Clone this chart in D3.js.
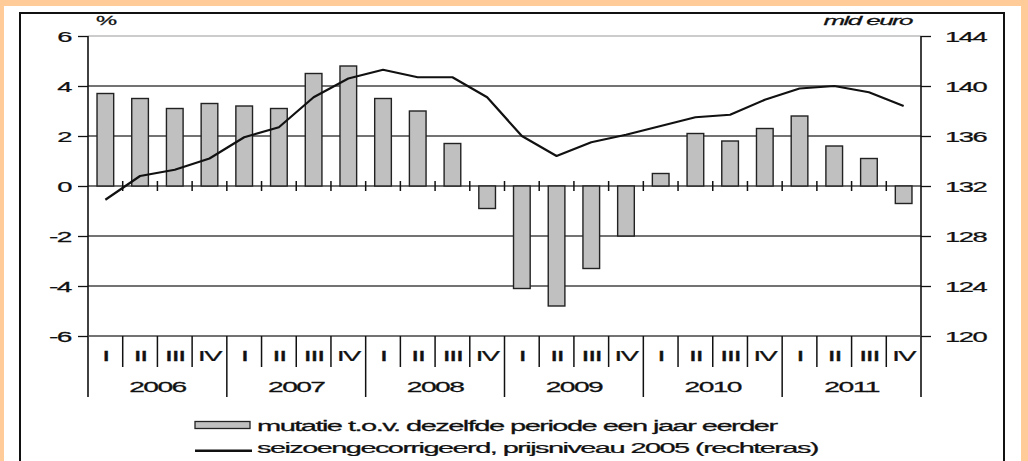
<!DOCTYPE html>
<html><head><meta charset="utf-8">
<script src="https://cdn.jsdelivr.net/npm/d3@7"></script>
<style>
html,body{margin:0;padding:0;background:#fff;}
svg{display:block;font-family:"Liberation Sans",Arial,sans-serif;}
</style></head>
<body>
<svg id="c" width="1028" height="461"></svg>
<script>
const quarters = ["I","II","III","IV"];
const years = ["2006","2007","2008","2009","2010","2011"];
const mutatie = [3.7,3.5,3.1,3.3, 3.2,3.1,4.5,4.8, 3.5,3.0,1.7,-0.9, -4.1,-4.8,-3.3,-2.0, 0.5,2.1,1.8,2.3, 2.8,1.6,1.1,-0.7];
const niveau = [130.9,132.8,133.3,134.2, 135.9,136.7,139.1,140.6, 141.3,140.7,140.7,139.1, 136.0,134.4,135.5,136.1, 136.8,137.5,137.7,138.9, 139.8,140.0,139.5,138.4];
const leftTicks = [-6,-4,-2,0,2,4,6];
const rightTicks = [120,124,128,132,136,140,144];
const leftUnit = "%";
const rightUnit = "mld euro";
const legendLabels = ["mutatie t.o.v. dezelfde periode een jaar eerder","seizoengecorrigeerd, prijsniveau 2005 (rechteras)"];

const cats = [];
years.forEach(y => quarters.forEach(q => cats.push(y + "-" + q)));

const svg = d3.select("#c");
const L = 88, R = 921, T = 36, B = 336;

// horizontal glyph stretch with tight spacing (the reference is widened)
function stretch(sel, k, ls){
  ls = (ls === undefined) ? -0.8 : ls;
  sel.each(function(){
    const s = d3.select(this);
    const w0 = this.getComputedTextLength();
    s.attr("letter-spacing", ls);
    const w1 = this.getComputedTextLength();
    const kk = w1 > 0 ? k*w0/w1 : k;
    const tx = +s.attr("x") || 0, ty = +s.attr("y") || 0;
    s.attr("x",0).attr("y",0).attr("transform",`translate(${tx},${ty}) scale(${kk},1)`)
     .attr("stroke","#111").attr("stroke-width",0.25);
  });
}

// background / borders
svg.append("rect").attr("x",0).attr("y",0).attr("width",1028).attr("height",461).attr("fill","#ffcc99");
svg.append("rect").attr("x",4).attr("y",6).attr("width",1017).attr("height",470).attr("fill","#fff");
svg.append("rect").attr("x",20).attr("y",13).attr("width",984).attr("height",470)
  .attr("fill","none").attr("stroke","#111").attr("stroke-width",2);

const x = d3.scaleBand().domain(cats).range([L,R]).padding(0);
const yL = d3.scaleLinear().domain([-6,6]).range([B,T]);
const yR = d3.scaleLinear().domain([120,144]).range([B,T]);

// gridlines
svg.append("g").selectAll("line").data(leftTicks.filter(v=>v>-6)).join("line")
  .attr("x1",L).attr("x2",R).attr("y1",d=>yL(d)).attr("y2",d=>yL(d))
  .attr("stroke",d=>d===6?"#999":"#444").attr("stroke-width",d=>d===6?1:1.3);

// bars
const bw = x.bandwidth()*0.48;
svg.append("g").selectAll("rect").data(mutatie).join("rect")
  .attr("x",(d,i)=>x(cats[i])+x.bandwidth()/2-bw/2)
  .attr("width",bw)
  .attr("y",d=>yL(Math.max(0,d)))
  .attr("height",d=>Math.abs(yL(d)-yL(0)))
  .attr("fill","#c0c0c0").attr("stroke","#222").attr("stroke-width",1.4);

// zero-line ticks at quarter boundaries
svg.append("g").selectAll("line").data(cats.slice(1)).join("line")
  .attr("x1",d=>x(d)).attr("x2",d=>x(d)).attr("y1",yL(0)-5).attr("y2",yL(0)+5)
  .attr("stroke","#111").attr("stroke-width",1.5);

// line
const line = d3.line().x((d,i)=>x(cats[i])+x.bandwidth()/2).y(d=>yR(d));
svg.append("path").datum(niveau).attr("d",line).attr("fill","none")
  .attr("stroke","#111").attr("stroke-width",2.2).attr("stroke-linejoin","round");

// axes
const axL = d3.axisLeft(yL).tickValues(leftTicks).tickSize(10).tickPadding(0).tickFormat(d=>String(d));
const gL = svg.append("g").attr("transform",`translate(${L},0)`).call(axL);
const axR = d3.axisRight(yR).tickValues(rightTicks).tickSize(10).tickPadding(0).tickFormat(d=>String(d));
const gR = svg.append("g").attr("transform",`translate(${R},0)`).call(axR);
[gL,gR].forEach(g=>{
  g.select(".domain").remove();
  g.selectAll(".tick line").attr("stroke","#111").attr("stroke-width",1.3);
  g.selectAll(".tick text").attr("font-size",15).attr("fill","#111").attr("font-family","Liberation Sans, Arial");
});
gL.selectAll(".tick text").attr("x",-17).attr("dy","0.36em");
gR.selectAll(".tick text").attr("x",24).attr("dy","0.36em");
stretch(gL.selectAll(".tick text"),1.65);
stretch(gR.selectAll(".tick text"),1.65);
svg.append("line").attr("x1",L).attr("x2",L).attr("y1",T).attr("y2",397).attr("stroke","#111").attr("stroke-width",1.6);
svg.append("line").attr("x1",R).attr("x2",R).attr("y1",T).attr("y2",397).attr("stroke","#111").attr("stroke-width",1.6);
svg.append("line").attr("x1",L).attr("x2",R).attr("y1",B).attr("y2",B).attr("stroke","#444").attr("stroke-width",1.3);

// category labels
svg.append("g").selectAll("line").data(cats.slice(1)).join("line")
  .attr("x1",d=>x(d)).attr("x2",d=>x(d)).attr("y1",B)
  .attr("y2",(d,i)=>((i+1)%4===0)?397:367)
  .attr("stroke","#111").attr("stroke-width",1.5);
const qt = svg.append("g").selectAll("text").data(cats).join("text")
  .attr("x",d=>x(d)+x.bandwidth()/2).attr("y",361).attr("text-anchor","middle")
  .attr("font-size",14).attr("fill","#111").text(d=>d.split("-")[1]);
stretch(qt,1.72);
const yt = svg.append("g").selectAll("text").data(years).join("text")
  .attr("x",(d,i)=>x(cats[i*4])+x.bandwidth()*2).attr("y",392).attr("text-anchor","middle")
  .attr("font-size",14.5).attr("fill","#111").text(d=>d);
stretch(yt,1.75);

// units
const u1 = svg.append("text").attr("x",96).attr("y",25).attr("font-size",13).attr("fill","#111").text(leftUnit);
stretch(u1,1.7);
const u2 = svg.append("text").attr("x",912).attr("y",25).attr("text-anchor","end").attr("font-size",13)
  .attr("font-style","italic").attr("fill","#111").text(rightUnit);
stretch(u2,1.75);

// legend
svg.append("rect").attr("x",195).attr("y",421.5).attr("width",55).attr("height",7)
  .attr("fill","#c0c0c0").attr("stroke","#222").attr("stroke-width",1.3);
svg.append("line").attr("x1",195).attr("x2",252).attr("y1",450.7).attr("y2",450.7)
  .attr("stroke","#111").attr("stroke-width",2.4);
const lg = svg.append("g").selectAll("text").data(legendLabels).join("text")
  .attr("x",257).attr("y",(d,i)=>431+i*21.5).attr("font-size",15).attr("fill","#111").text(d=>d);
stretch(lg,1.7);
</script>
</body></html>
